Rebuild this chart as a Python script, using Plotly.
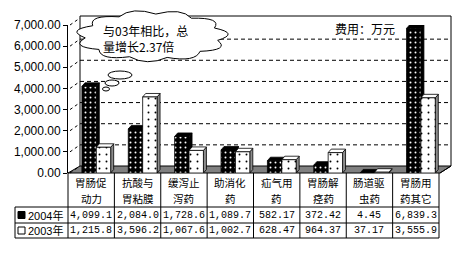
import math
import plotly.graph_objects as go

# ---------------- data ----------------
categories = ["胃肠促动力", "抗酸与胃粘膜", "缓泻止泻药", "助消化药",
              "疝气用药", "胃肠解痉药", "肠道驱虫药", "胃肠用药其它"]
header_line1 = ["胃肠促", "抗酸与", "缓泻止", "助消化", "疝气用", "胃肠解", "肠道驱", "胃肠用"]
header_line2 = ["动力", "胃粘膜", "泻药", "药", "药", "痉药", "虫药", "药其它"]
series_names = ["2004年", "2003年"]
values_2004 = [4099.1, 2084.0, 1728.6, 1089.7, 582.17, 372.42, 4.45, 6839.3]
values_2003 = [1215.8, 3596.2, 1067.6, 1002.7, 628.47, 964.37, 37.17, 3555.9]
labels_2004 = ["4,099.1", "2,084.0", "1,728.6", "1,089.7", "582.17", "372.42", "4.45", "6,839.3"]
labels_2003 = ["1,215.8", "3,596.2", "1,067.6", "1,002.7", "628.47", "964.37", "37.17", "3,555.9"]
y_ticks = [0, 1000, 2000, 3000, 4000, 5000, 6000, 7000]
unit_text = "费用：万元"
callout_text = "与03年相比，总<br>量增长2.37倍"

# ---------------- geometry ----------------
W, H = 459, 257
L, R, T, B = 68, 20, 25, 84
PW, PH = W - L - R, H - T - B
YMAX = 7000


def px(xp):
    return (xp - L) / PW


def py(yp):
    return (H - B - yp) / PH


def ypix(v):
    return (H - B) - v / YMAX * PH


CJK = "Noto Sans CJK SC"
idx = list(range(len(categories)))
BW = 0.31
OFF = [-0.20, 0.11]
DX = 0.065                # depth in category units
DY = 3.5 / PH * YMAX      # depth in value units

fig = go.Figure()
fig.add_trace(go.Bar(
    x=idx, y=values_2004, name=series_names[0], width=BW, offset=OFF[0],
    marker=dict(color="black", line=dict(color="black", width=0.8),
                pattern=dict(shape=".", fgcolor="white", bgcolor="black",
                             size=5, solidity=0.12, fillmode="replace")),
))
fig.add_trace(go.Bar(
    x=idx, y=values_2003, name=series_names[1], width=BW, offset=OFF[1],
    marker=dict(color="white", line=dict(color="black", width=0.8),
                pattern=dict(shape=".", fgcolor="black", bgcolor="white",
                             size=7, solidity=0.06, fillmode="replace")),
))

shapes = []
# floor
fx0, fx1 = 68, 440
back_dx, back_dy = 10, -7
floor_path = "M {},{} L {},{} L {},{} L {},{} Z".format(
    px(fx0), py(173), px(fx1), py(173),
    px(fx1 + back_dx + 1), py(173 + back_dy), px(fx0 + back_dx + 2), py(173 + back_dy))
shapes.append(dict(type="path", path=floor_path, xref="paper", yref="paper",
                   fillcolor="#808080", line=dict(color="black", width=1), layer="below"))
# back wall gridlines
for v in y_ticks[1:-1]:
    yg = ypix(v) + back_dy
    shapes.append(dict(type="line", xref="paper", yref="paper",
                       x0=px(80), x1=px(451), y0=py(yg), y1=py(yg),
                       line=dict(color="black", width=1, dash="4px,3px"), layer="below"))
# side-wall diagonal tick lines
for v in y_ticks:
    yg = ypix(v)
    shapes.append(dict(type="line", xref="paper", yref="paper",
                       x0=px(70), x1=px(80), y0=py(yg), y1=py(yg + back_dy),
                       line=dict(color="black", width=1, dash="3px,3px"), layer="below"))
# back wall frame
top_y = ypix(YMAX) + back_dy - 2
shapes.append(dict(type="path", xref="paper", yref="paper",
                   path="M {},{} L {},{} L {},{} L {},{} L {},{}".format(
                       px(80), py(166), px(80), py(top_y), px(451), py(top_y),
                       px(451), py(166), px(440), py(173)),
                   line=dict(color="black", width=1), layer="below"))

# 3D faces of the bars
for vals, off, dark in [(values_2004, OFF[0], True), (values_2003, OFF[1], False)]:
    for i, v in zip(idx, vals):
        xl = i + off
        xr = xl + BW
        side = "M {},{} L {},{} L {},{} L {},{} Z".format(xr, 0, xr + DX, DY, xr + DX, v + DY, xr, v)
        top = "M {},{} L {},{} L {},{} L {},{} Z".format(xl, v, xr, v, xr + DX, v + DY, xl + DX, v + DY)
        shapes.append(dict(type="path", path=side, xref="x", yref="y",
                           fillcolor="black" if dark else "#8c8c8c",
                           line=dict(color="black", width=0.8), layer="between"))
        shapes.append(dict(type="path", path=top, xref="x", yref="y",
                           fillcolor="black" if dark else "white",
                           line=dict(color="black", width=0.8), layer="between"))

# cloud callout
cx, cy, rx, ry = 152, 36, 67, 22
n = 11
pts = []
for k in range(n + 1):
    a = 2 * math.pi * k / n + 0.2
    pts.append((cx + rx * math.cos(a), cy + ry * math.sin(a)))
path = "M {},{}".format(px(pts[0][0]), py(pts[0][1]))
for k in range(n):
    am = 2 * math.pi * (k + 0.5) / n + 0.2
    c = (cx + rx * 1.32 * math.cos(am), cy + ry * 1.38 * math.sin(am))
    p = pts[k + 1]
    path += " Q {},{} {},{}".format(px(c[0]), py(c[1]), px(p[0]), py(p[1]))
path += " Z"
shapes.append(dict(type="path", path=path, xref="paper", yref="paper",
                   fillcolor="white", line=dict(color="black", width=1), layer="above"))
for (ex, ey, erx, ery) in [(120, 75, 12, 4), (112, 83, 7, 3), (106, 89, 3.5, 2)]:
    shapes.append(dict(type="circle", xref="paper", yref="paper",
                       x0=px(ex - erx), x1=px(ex + erx), y0=py(ey - ery), y1=py(ey + ery),
                       fillcolor="white", line=dict(color="black", width=1), layer="above"))

# data table
row_y = [173, 207, 223, 238]
col_x = [68 + k * PW / 8 for k in range(9)]
tbl_left = 15
for yr in row_y[1:]:
    shapes.append(dict(type="line", xref="paper", yref="paper",
                       x0=px(tbl_left), x1=px(col_x[-1]), y0=py(yr), y1=py(yr),
                       line=dict(color="black", width=1)))
shapes.append(dict(type="line", xref="paper", yref="paper",
                   x0=px(tbl_left), x1=px(tbl_left), y0=py(row_y[1]), y1=py(row_y[3]),
                   line=dict(color="black", width=1)))
for xc in col_x:
    shapes.append(dict(type="line", xref="paper", yref="paper",
                       x0=px(xc), x1=px(xc), y0=py(row_y[0]), y1=py(row_y[3]),
                       line=dict(color="black", width=1)))
# legend keys
key_fill = ["black", "white"]
for r, fillc in enumerate(key_fill):
    yc = (row_y[r + 1] + row_y[r + 2]) / 2
    shapes.append(dict(type="rect", xref="paper", yref="paper",
                       x0=px(18), x1=px(25), y0=py(yc + 3.5), y1=py(yc - 3.5),
                       fillcolor=fillc, line=dict(color="black", width=1)))

annotations = []
for k in range(len(categories)):
    for lab, yl in [(header_line1[k], 182.5), (header_line2[k], 198.5)]:
        annotations.append(dict(x=(k + 0.5) / 8, y=py(yl),
                                xref="paper", yref="paper", text=lab, showarrow=False,
                                xanchor="center", yanchor="middle", borderpad=0,
                                font=dict(family=CJK, size=10.5, color="black")))
for r, labs in enumerate([labels_2004, labels_2003]):
    yc = (row_y[r + 1] + row_y[r + 2]) / 2
    for k, lab in enumerate(labs):
        annotations.append(dict(x=(k + 0.5) / 8, y=py(yc), xref="paper", yref="paper",
                                text=lab, showarrow=False, xanchor="center", yanchor="middle",
                                font=dict(family="Liberation Mono", size=10, color="black")))
    annotations.append(dict(x=px(26), y=py(yc), xref="paper", yref="paper",
                            text=series_names[r], showarrow=False, xanchor="left",
                            yanchor="middle",
                            font=dict(family="Liberation Sans, " + CJK, size=11, color="black")))

annotations.append(dict(x=px(365), y=py(29), xref="paper", yref="paper", text=unit_text,
                        showarrow=False, xanchor="center", yanchor="middle",
                        font=dict(family=CJK, size=12, color="black")))
annotations.append(dict(x=px(101), y=py(38), xref="paper", yref="paper", text=callout_text,
                        showarrow=False, xanchor="left", yanchor="middle", align="left",
                        font=dict(family=CJK, size=12, color="black")))

fig.update_layout(
    width=W, height=H,
    margin=dict(l=L, r=R, t=T, b=B, pad=0),
    paper_bgcolor="white", plot_bgcolor="rgba(0,0,0,0)",
    showlegend=False,
    barmode="overlay",
    shapes=shapes, annotations=annotations,
    xaxis=dict(range=[-0.5, 7.5], visible=False, fixedrange=True),
    yaxis=dict(range=[0, YMAX], tickvals=y_ticks, tickformat=",.2f",
               showgrid=False, zeroline=False, showline=True, linecolor="black",
               linewidth=1, ticks="outside", ticklen=4, tickcolor="black",
               tickfont=dict(family="Liberation Sans", size=12, color="black")),
)

fig.write_html("out.html")
